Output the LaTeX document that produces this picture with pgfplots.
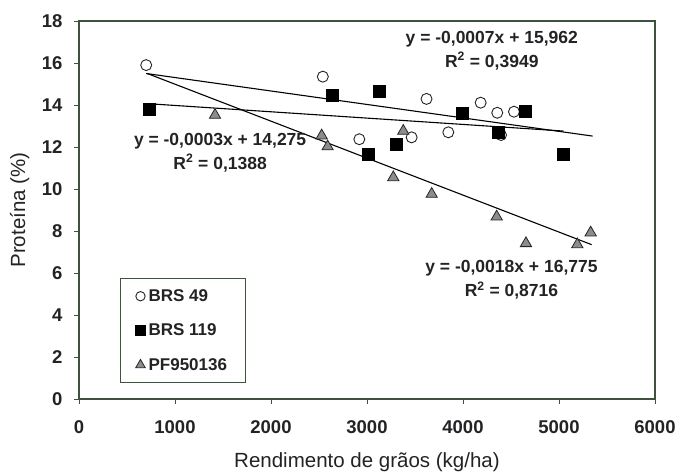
\documentclass[border=0pt]{standalone}
\usepackage{pgfplots}
\pgfplotsset{compat=1.18}
\usepackage{fontspec}
\setmainfont{Liberation Sans}

\definecolor{axiscol}{RGB}{62,82,62}
\definecolor{inkcol}{RGB}{35,35,38}
\definecolor{trigray}{RGB}{140,140,140}

\begin{document}
\begin{tikzpicture}
\useasboundingbox (-79pt,-73pt) rectangle (599pt,399pt);
\begin{axis}[
  at={(0,0)}, anchor=south west,
  scale only axis, width=576pt, height=378pt,
  xmin=0, xmax=6000, ymin=0, ymax=18,
  xtick={0,1000,...,6000}, ytick={0,2,...,18},
  tick align=outside, tick pos=left, major tick length=5pt,
  axis line style={axiscol, line width=1.2pt},
  tick style={axiscol, line width=0.8pt},
  ticklabel style={font=\fontsize{18.5}{20}\selectfont\bfseries, text=inkcol},
  xticklabel style={yshift=-13pt},
  yticklabel style={xshift=-8pt},
  /pgf/number format/assume math mode=true,
  /pgf/number format/1000 sep={},
  xlabel={Rendimento de grãos (kg/ha)},
  ylabel={Proteína (\%)},
  label style={font=\fontsize{20.5}{22}\selectfont, text=inkcol},
  xlabel style={at={(axis description cs:0.5,-0.167)}, anchor=center},
  ylabel style={at={(axis description cs:-0.103,0.5)}, anchor=center},
  legend style={at={(0.071,0.32)}, anchor=north west, draw=axiscol, line width=1pt,
    fill=white, font=\fontsize{17}{19}\selectfont\bfseries, text=inkcol,
    row sep=17pt, inner xsep=15pt, inner ysep=9pt,
    nodes={inner xsep=3pt}},
  legend image post style={scale=0.85},
  legend cell align=left,
]
% BRS 49
\addplot[only marks, mark=o, mark size=5.5pt,
  mark options={draw=inkcol, fill=white, line width=0.9pt}]
  coordinates {(700,15.9) (2540,15.35) (2920,12.37) (3465,12.46) (3620,14.29)
               (3847,12.7) (4184,14.11) (4357,13.63) (4396,12.57) (4531,13.68)};
\addlegendentry{BRS 49}
% BRS 119
\addplot[only marks, mark=square*, mark size=6pt,
  mark options={draw=black, fill=black}]
  coordinates {(729,13.81) (2635,14.48) (3017,11.65) (3128,14.68) (3309,12.13)
               (3993,13.6) (4368,12.7) (4653,13.71) (5045,11.67)};
\addlegendentry{BRS 119}
% PF950136
\addplot[only marks, mark=triangle*, mark size=6.5pt,
  mark options={draw=inkcol, fill=trigray, line width=0.8pt}]
  coordinates {(1417,13.52) (2528,12.54) (2590,12.02) (3274,10.55) (3378,12.76)
               (3674,9.76) (4351,8.68) (4656,7.41) (5191,7.36) (5330,7.92)};
\addlegendentry{PF950136}

% linear trend lines
\addplot[forget plot, black, line width=1.1pt] coordinates {(700,15.5) (5350,12.52)};
\addplot[forget plot, black, line width=1.1pt] coordinates {(729,14.06) (5045,12.76)};
\addplot[forget plot, black, line width=1.1pt] coordinates {(711,15.5) (5340,7.35)};

% trend equations
\node[align=center, font=\fontsize{17.5}{24}\selectfont\bfseries, text=inkcol]
  at (axis cs:4300,16.6) {y = -0,0007x + 15,962\\R\textsuperscript{2} = 0,3949};
\node[align=center, font=\fontsize{17.5}{24}\selectfont\bfseries, text=inkcol]
  at (axis cs:1470,11.74) {y = -0,0003x + 14,275\\R\textsuperscript{2} = 0,1388};
\node[align=center, font=\fontsize{17.5}{24}\selectfont\bfseries, text=inkcol]
  at (axis cs:4505,5.67) {y = -0,0018x + 16,775\\R\textsuperscript{2} = 0,8716};
\end{axis}
\end{tikzpicture}
\end{document}
